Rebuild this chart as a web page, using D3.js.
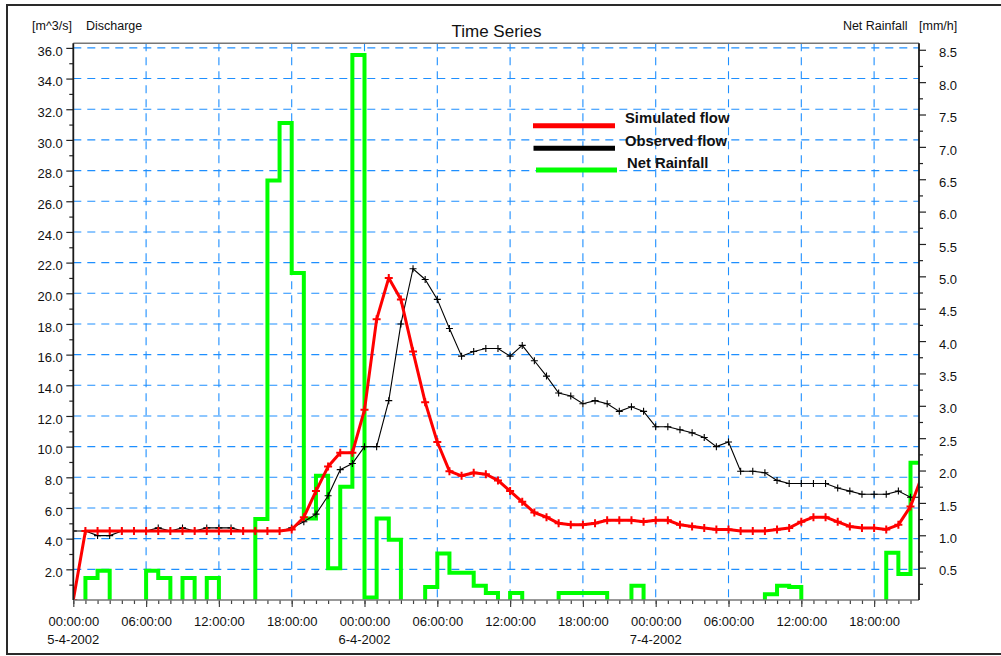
<!DOCTYPE html>
<html><head><meta charset="utf-8">
<script src="https://cdn.jsdelivr.net/npm/d3@7"></script>
<style>
body{margin:0;background:#fff;}
svg{display:block;font-family:"Liberation Sans",Arial,Helvetica,sans-serif;}
</style></head><body>
<svg id="chart" width="1001" height="656"></svg>
<script>
// ---------------- DATA ----------------
const startTime = Date.UTC(2002, 3, 5, 0, 0, 0); // 5-4-2002 00:00:00, hourly series
const simulated = [0, 4.5, 4.5, 4.5, 4.5, 4.5, 4.5, 4.5, 4.5, 4.5, 4.5, 4.5, 4.5, 4.5, 4.5, 4.5, 4.5, 4.5,
  4.6, 5.4, 7.1, 8.7, 9.6, 9.6, 12.4, 18.3, 21.0, 19.6, 16.2, 12.9, 10.3, 8.4, 8.1, 8.3, 8.2, 7.8,
  7.1, 6.4, 5.7, 5.4, 5.0, 4.9, 4.9, 5.0, 5.2, 5.2, 5.2, 5.1, 5.2, 5.2, 4.9, 4.8, 4.7, 4.6, 4.6,
  4.5, 4.5, 4.5, 4.6, 4.7, 5.1, 5.4, 5.4, 5.1, 4.8, 4.7, 4.7, 4.6, 4.9, 6.1, 8.2];
const observed = [4.5, 4.5, 4.2, 4.2, 4.5, 4.5, 4.5, 4.7, 4.5, 4.7, 4.5, 4.7, 4.7, 4.7, 4.5, 4.5, 4.5, 4.5,
  4.7, 5.1, 5.6, 6.8, 8.5, 8.9, 10.0, 10.0, 13.0, 18.0, 21.6, 20.9, 19.6, 17.7, 15.9, 16.2, 16.4, 16.4,
  15.9, 16.6, 15.6, 14.6, 13.5, 13.3, 12.8, 13.0, 12.8, 12.3, 12.6, 12.3, 11.3, 11.3, 11.1, 10.9, 10.6,
  10.0, 10.3, 8.4, 8.4, 8.3, 7.8, 7.6, 7.6, 7.6, 7.6, 7.3, 7.1, 6.9, 6.9, 6.9, 7.1, 6.7, 6.7];
// net rainfall [mm/h], value for the hour starting at index
const rainfall = [0, 0.34, 0.45, 0, 0, 0, 0.45, 0.34, 0, 0.34, 0, 0.34, 0, 0, 0, 1.25, 6.48, 7.37,
  5.05, 1.26, 1.92, 0.49, 1.75, 8.42, 0.04, 1.26, 0.93, 0, 0, 0.2, 0.72, 0.42, 0.42, 0.22, 0.11, 0,
  0.11, 0, 0, 0, 0.11, 0.11, 0.11, 0.11, 0, 0, 0.22, 0, 0, 0, 0, 0, 0, 0, 0, 0, 0,
  0.09, 0.22, 0.2, 0, 0, 0, 0, 0, 0, 0, 0.73, 0.40, 2.12];
const leftTickValues = [2, 4, 6, 8, 10, 12, 14, 16, 18, 20, 22, 24, 26, 28, 30, 32, 34, 36];
const rightTickValues = [0.5, 1, 1.5, 2, 2.5, 3, 3.5, 4, 4.5, 5, 5.5, 6, 6.5, 7, 7.5, 8, 8.5];
const legendLabels = ["Simulated flow", "Observed flow", "Net Rainfall"];
const titleText = "Time Series";
const leftUnit = "[m^3/s]", leftName = "Discharge";
const rightName = "Net Rainfall", rightUnit = "[mm/h]";
const durationHours = 69.7;

// ---------------- LAYOUT ----------------
const H = 3600e3;
const L = 73.3, R = 919, T = 43.3, B = 600;
const svg = d3.select("#chart");
const tAt = h => new Date(startTime + h * H);

const x = d3.scaleUtc().domain([tAt(0), tAt(durationHours)]).range([L, R]);
const yL = d3.scaleLinear().domain([0, 36.3]).range([B, T]);
const yR = d3.scaleLinear().domain([0, 8.6]).range([B, T]);

// frame
svg.append("rect").attr("x", 7).attr("y", 5).attr("width", 996).attr("height", 649)
  .attr("fill", "#fff").attr("stroke", "#2a2a2a").attr("stroke-width", 2);

svg.append("defs").append("clipPath").attr("id", "plotclip")
  .append("rect").attr("x", L).attr("y", T).attr("width", R - L).attr("height", B - T);

// grid
const gridColor = "#1e8fff";
const grid = svg.append("g").attr("stroke", gridColor).attr("stroke-width", 1.1)
  .attr("stroke-dasharray", "8,6").attr("fill", "none");
grid.selectAll("line.h").data(leftTickValues).join("line").attr("class", "h")
  .attr("x1", L).attr("x2", R).attr("y1", d => yL(d)).attr("y2", d => yL(d));
const majorTimes = d3.utcHour.every(6).range(tAt(0), tAt(durationHours));
grid.selectAll("line.v").data(majorTimes.filter(t => +t > startTime)).join("line").attr("class", "v")
  .attr("y1", T).attr("y2", B).attr("x1", d => x(d)).attr("x2", d => x(d));

// plot border top
svg.append("line").attr("x1", L).attr("x2", R).attr("y1", T).attr("y2", T)
  .attr("stroke", "#777").attr("stroke-width", 1.6);

const plot = svg.append("g").attr("clip-path", "url(#plotclip)");

// rainfall: step segments for each run of non-zero values
const runs = [];
let cur = null;
rainfall.forEach((v, i) => {
  if (v > 0) { if (!cur) { cur = { a: i, vals: [] }; runs.push(cur); } cur.vals.push(v); }
  else cur = null;
});
const rainLine = d3.line().x(d => x(tAt(d[0]))).y(d => yR(d[1])).curve(d3.curveLinear);
runs.forEach(r => {
  const pts = [[r.a, 0]];
  r.vals.forEach((v, k) => { pts.push([r.a + k, v]); pts.push([r.a + k + 1, v]); });
  pts.push([r.a + r.vals.length, 0]);
  plot.append("path").attr("d", rainLine(pts)).attr("fill", "none")
    .attr("stroke", "#00ff00").attr("stroke-width", 4).attr("stroke-linejoin", "miter");
});

// flows
const flowLine = d3.line().x((d, i) => x(tAt(i))).y(d => yL(d));
plot.append("path").attr("d", flowLine(observed)).attr("fill", "none")
  .attr("stroke", "#000").attr("stroke-width", 1.1);
plot.append("g").selectAll("path").data(observed).join("path")
  .attr("transform", (d, i) => `translate(${x(tAt(i))},${yL(d)})`)
  .attr("d", "M-3.5,0H3.5M0,-3.5V3.5").attr("stroke", "#000").attr("stroke-width", 1.1);

plot.append("path").attr("d", flowLine(simulated)).attr("fill", "none")
  .attr("stroke", "#ff0000").attr("stroke-width", 3).attr("stroke-linejoin", "round");
plot.append("g").selectAll("path").data(simulated).join("path")
  .attr("transform", (d, i) => `translate(${x(tAt(i))},${yL(d)})`)
  .attr("d", "M-4,0H4M0,-4V4").attr("stroke", "#ff0000").attr("stroke-width", 2);

// axes
function styleAxis(g, color) {
  g.select(".domain").remove();
  g.selectAll("line").attr("stroke", color).attr("stroke-width", 1.2);
  g.selectAll("text").attr("fill", "#111").style("font-size", "13px")
    .style("font-family", '"Liberation Sans",Arial,sans-serif');
}
// left
const minorL = d3.range(1, 36, 2);
svg.append("g").attr("transform", `translate(${L},0)`)
  .call(d3.axisLeft(yL).tickValues(minorL).tickSize(4).tickFormat(""))
  .call(g => styleAxis(g, "#222"));
svg.append("g").attr("transform", `translate(${L},0)`)
  .call(d3.axisLeft(yL).tickValues(leftTickValues).tickSize(7).tickPadding(3.5).tickFormat(d3.format(".1f")))
  .call(g => styleAxis(g, "#222"))
  .call(g => g.selectAll("text").attr("dy", "0.55em"));
// right
const minorR = d3.range(0.25, 8.6, 0.5);
svg.append("g").attr("transform", `translate(${R},0)`)
  .call(d3.axisRight(yR).tickValues(minorR).tickSize(4).tickFormat(""))
  .call(g => styleAxis(g, "#222"));
svg.append("g").attr("transform", `translate(${R},0)`)
  .call(d3.axisRight(yR).tickValues(rightTickValues).tickSize(7).tickPadding(13).tickFormat(d3.format(".1f")))
  .call(g => styleAxis(g, "#222"))
  .call(g => g.selectAll("text").attr("dy", "0.55em"));
// bottom
svg.append("g").attr("transform", `translate(0,${B})`)
  .call(d3.axisBottom(x).ticks(d3.utcHour.every(1)).tickSize(4).tickFormat(""))
  .call(g => styleAxis(g, "#444"));
svg.append("g").attr("transform", `translate(0,${B})`)
  .call(d3.axisBottom(x).tickValues(majorTimes).tickSize(7).tickPadding(9.5).tickFormat(d3.utcFormat("%H:%M:%S")))
  .call(g => styleAxis(g, "#444"));
svg.append("g").selectAll("text").data(majorTimes.filter(t => t.getUTCHours() === 0)).join("text")
  .attr("x", d => x(d)).attr("y", 644).attr("text-anchor", "middle")
  .style("font-size", "13px").attr("fill", "#111").text(d3.utcFormat("%-d-%-m-%Y"));

// axis lines
svg.append("line").attr("x1", L).attr("x2", R).attr("y1", B).attr("y2", B)
  .attr("stroke", "#777").attr("stroke-width", 1.6);
svg.append("line").attr("x1", L).attr("x2", L).attr("y1", T).attr("y2", B)
  .attr("stroke", "#1a1a1a").attr("stroke-width", 1.8);
svg.append("line").attr("x1", R).attr("x2", R).attr("y1", T).attr("y2", B)
  .attr("stroke", "#1a1a1a").attr("stroke-width", 1.8);

// titles
svg.append("text").attr("x", 496.5).attr("y", 37).attr("text-anchor", "middle")
  .style("font-size", "17px").attr("fill", "#111").text(titleText);
svg.append("text").attr("x", 32).attr("y", 30).style("font-size", "12.5px").attr("fill", "#111").text(leftUnit);
svg.append("text").attr("x", 86).attr("y", 30).style("font-size", "12.5px").attr("fill", "#111").text(leftName);
svg.append("text").attr("x", 907.5).attr("y", 30).attr("text-anchor", "end").style("font-size", "12.5px").attr("fill", "#111").text(rightName);
svg.append("text").attr("x", 919).attr("y", 30).style("font-size", "12.5px").attr("fill", "#111").text(rightUnit);

// legend
const legendColors = ["#ff0000", "#000000", "#00ff00"];
const legendLineX = [[533, 615], [533.5, 615], [536, 617]];
const legendLineY = [125.7, 148.3, 170];
const legendTextX = [625, 625, 627];
const legendTextY = [122.5, 145.5, 167.5];
const lg = svg.append("g");
legendLabels.forEach((lab, i) => {
  lg.append("line").attr("x1", legendLineX[i][0]).attr("x2", legendLineX[i][1])
    .attr("y1", legendLineY[i]).attr("y2", legendLineY[i])
    .attr("stroke", legendColors[i]).attr("stroke-width", 5);
  lg.append("text").attr("x", legendTextX[i]).attr("y", legendTextY[i])
    .style("font-size", "14.8px").style("font-weight", "bold").attr("fill", "#111").text(lab);
});
</script>
</body></html>
